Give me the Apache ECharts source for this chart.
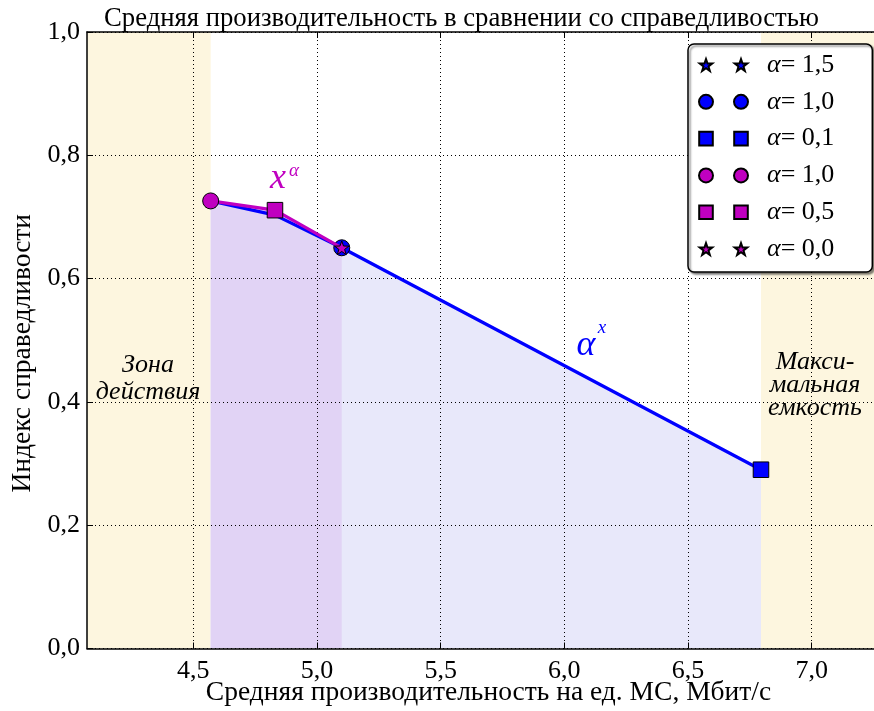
<!DOCTYPE html>
<html>
<head>
<meta charset="utf-8">
<script src="https://cdn.jsdelivr.net/npm/echarts@6/dist/echarts.min.js"></script>
<style>
  html, body { margin: 0; padding: 0; background: #fff; }
  #chart { width: 874px; height: 711px; }
</style>
</head>
<body>
<div id="chart"></div>
<script>
// Average throughput per MS (Mbit/s) and fairness index along the two policy curves
const blueThroughput = [4.57, 4.83, 5.10, 6.795];
const blueFairness = [0.726, 0.703, 0.650, 0.290];
const magentaThroughput = [4.57, 4.83, 5.10];
const magentaFairness = [0.726, 0.711, 0.650];

// Marked points: which curve, which point on it, marker shape, alpha value
const markerCurve = ['blue', 'blue', 'blue', 'magenta', 'magenta', 'magenta'];
const markerPoint = [0, 2, 3, 0, 1, 2];
const markerShape = ['star', 'circle', 'square', 'circle', 'square', 'star'];
const alphaLabels = ['1,5', '1,0', '0,1', '1,0', '0,5', '0,0'];

// Axis extents and ticks
const xRange = [4.07, 7.26];
const xTickValues = [4.5, 5.0, 5.5, 6.0, 6.5, 7.0];
const yTickValues = [0.0, 0.2, 0.4, 0.6, 0.8, 1.0];

const FONT = 'Liberation Serif';
const BLUE = '#0000ff';
const MAGENTA = '#c000c0';
const colorOf = { blue: BLUE, magenta: MAGENTA };
const fmt = v => v.toFixed(1).replace('.', ',');

// ---- marker paths (shared bounding box so legend icons scale alike) ----
function starPath(cx, R) {
  const r = R * 0.4;
  let d = '';
  for (let i = 0; i < 10; i++) {
    const rad = (i % 2 === 0) ? R : r;
    const a = -Math.PI / 2 + i * Math.PI / 5;
    const x = (cx + rad * Math.cos(a)).toFixed(2);
    const y = (rad * Math.sin(a) + 0.6).toFixed(2);
    d += (i === 0 ? 'M' : 'L') + x + ',' + y;
  }
  return d + 'Z';
}
function circlePath(cx, r) {
  return `M${cx - r},0A${r},${r} 0 1,0 ${cx + r},0A${r},${r} 0 1,0 ${cx - r},0Z`;
}
function squarePath(cx, h) {
  return `M${cx - h},${-h}L${cx + h},${-h}L${cx + h},${h}L${cx - h},${h}Z`;
}
const BOX = 7;
function frame(x0, x1) {
  return `M${x0},${-BOX}L${x0},${-BOX}M${x1},${BOX}L${x1},${BOX}`;
}
function shapePath(shape, cx) {
  if (shape === 'star') return starPath(cx, 6.6);
  if (shape === 'circle') return circlePath(cx, 7);
  return squarePath(cx, 6.8);
}
const PAIR_GAP = 35;
function legendIcon(shape) {
  return 'path://' + frame(-BOX, PAIR_GAP + BOX) + shapePath(shape, 0) + shapePath(shape, PAIR_GAP);
}
function plotSymbol(shape) {
  return 'path://' + frame(-BOX, BOX) + shapePath(shape, 0);
}

const bluePts = blueThroughput.map((x, i) => [x, blueFairness[i]]);
const magentaPts = magentaThroughput.map((x, i) => [x, magentaFairness[i]]);
const ptsOf = { blue: bluePts, magenta: magentaPts };

const markerNames = markerShape.map((s, i) => 'marker' + i);

const markerSeries = markerShape.map((shape, i) => ({
  name: markerNames[i],
  type: 'scatter',
  z: markerCurve[i] === 'blue' ? 4 : 6,
  symbol: plotSymbol(shape),
  symbolSize: 16,
  itemStyle: { color: colorOf[markerCurve[i]], borderColor: '#000', borderWidth: 1, opacity: 1 },
  data: [ptsOf[markerCurve[i]][markerPoint[i]]],
  silent: true
}));

const chart = echarts.init(document.getElementById('chart'), null, { renderer: 'canvas' });

const lastBlue = blueThroughput[blueThroughput.length - 1];

function caption(x, y, text, color, size, italic, lineHeight) {
  return {
    type: 'text', x, y, z: 10, silent: true,
    style: {
      text, fill: color, fontFamily: FONT, fontSize: size,
      fontStyle: italic ? 'italic' : 'normal',
      align: 'center', verticalAlign: 'middle', lineHeight: lineHeight || size
    }
  };
}

const option = {
  backgroundColor: '#fff',
  animation: false,
  textStyle: { fontFamily: FONT },
  title: {
    text: 'Средняя производительность в сравнении со справедливостью',
    left: 104,
    top: 5,
    padding: 0,
    textStyle: { fontFamily: FONT, fontWeight: 'normal', fontSize: 26.7, color: '#000' }
  },
  grid: { left: 87, right: -2, top: 32, bottom: 62.5, containLabel: false, outerBoundsMode: 'none' },
  legend: {
    orient: 'vertical',
    left: 688,
    top: 44,
    padding: [8, 38, 10, 10],
    itemWidth: 49,
    itemHeight: 14,
    itemGap: 10.8,
    backgroundColor: '#fff',
    borderColor: '#000',
    borderWidth: 1.5,
    borderRadius: 6,
    shadowColor: 'rgba(0,0,0,0.45)',
    shadowBlur: 2,
    shadowOffsetX: 2,
    shadowOffsetY: 2,
    data: markerShape.map((shape, i) => ({ name: markerNames[i], icon: legendIcon(shape) })),
    formatter: name => {
      const i = markerNames.indexOf(name);
      return `{a|α}{b|= ${alphaLabels[i]}}`;
    },
    textStyle: {
      rich: {
        a: { fontFamily: FONT, fontStyle: 'italic', fontSize: 26, color: '#000', padding: [0, 0, 0, 14] },
        b: { fontFamily: FONT, fontSize: 26, color: '#000' }
      }
    },
    selectedMode: false
  },
  xAxis: [{
    type: 'value',
    min: xRange[0],
    max: xRange[1],
    interval: 0.5,
    z: 2,
    name: 'Средняя производительность на ед. МС, Мбит/с',
    nameLocation: 'middle',
    nameGap: 30,
    nameMoveOverlap: false,
    nameTextStyle: { fontFamily: FONT, fontSize: 27.5, color: '#000', padding: [0, 0, 0, 14] },
    axisLine: { show: true, onZero: false, lineStyle: { color: '#000', width: 1.5 } },
    axisTick: { show: true, inside: true, length: 6, lineStyle: { color: '#000', width: 1 },
      customValues: xTickValues },
    axisLabel: {
      fontFamily: FONT, fontSize: 26, color: '#000', margin: 10,
      customValues: xTickValues,
      formatter: v => fmt(v)
    },
    splitLine: { show: true, lineStyle: { color: '#000', type: [1, 3], width: 1 } }
  }, {
    type: 'value',
    position: 'top',
    min: xRange[0],
    max: xRange[1],
    z: 2,
    axisLine: { show: true, onZero: false, lineStyle: { color: '#000', width: 1.5 } },
    axisTick: { show: true, inside: true, length: 6, lineStyle: { color: '#000', width: 1 },
      customValues: xTickValues },
    axisLabel: { show: false },
    splitLine: { show: false }
  }],
  yAxis: {
    type: 'value',
    min: 0,
    max: 1,
    interval: 0.2,
    z: 2,
    name: 'Индекс справедливости',
    nameLocation: 'middle',
    nameRotate: 90,
    nameGap: 50,
    nameMoveOverlap: false,
    nameTextStyle: { fontFamily: FONT, fontSize: 27.5, color: '#000', padding: [0, 26, 0, 0] },
    axisLine: { show: true, lineStyle: { color: '#000', width: 1.5 } },
    axisTick: { show: true, inside: true, length: 6, lineStyle: { color: '#000', width: 1 } },
    axisLabel: {
      fontFamily: FONT, fontSize: 26, color: '#000', margin: 7,
      customValues: yTickValues,
      formatter: v => fmt(v)
    },
    splitLine: { show: true, lineStyle: { color: '#000', type: [1, 3], width: 1 } }
  },
  series: [
    {
      name: 'blueArea',
      type: 'line',
      z: 1,
      symbol: 'none',
      silent: true,
      data: bluePts,
      lineStyle: { width: 0, opacity: 0 },
      areaStyle: { color: '#e8e8fa', opacity: 1 },
      markArea: {
        silent: true,
        itemStyle: { color: '#fdf6df', opacity: 1 },
        data: [
          [{ xAxis: xRange[0], yAxis: 0 }, { xAxis: blueThroughput[0], yAxis: 1 }],
          [{ xAxis: lastBlue, yAxis: 0 }, { xAxis: xRange[1], yAxis: 1 }]
        ]
      }
    },
    {
      name: 'magentaArea',
      type: 'line',
      z: 1,
      symbol: 'none',
      silent: true,
      data: magentaPts,
      lineStyle: { width: 0, opacity: 0 },
      areaStyle: { color: '#e1d3f5', opacity: 1 }
    },
    {
      name: 'blueLine',
      type: 'line',
      z: 3,
      symbol: 'none',
      silent: true,
      data: bluePts,
      lineStyle: { color: BLUE, width: 3.2 }
    },
    {
      name: 'magentaLine',
      type: 'line',
      z: 5,
      symbol: 'none',
      silent: true,
      data: magentaPts,
      lineStyle: { color: MAGENTA, width: 3.2 }
    },
    ...markerSeries
  ],
  graphic: [
    // zone captions
    caption(148, 379, 'Зона\nдействия', '#000', 26, true, 27),
    caption(815, 385, 'Макси-\nмальная\nемкость', '#000', 26, true, 23),
    // curve captions
    caption(278, 179, 'x', MAGENTA, 36, true),
    caption(294, 171, 'α', MAGENTA, 19, true),
    caption(586, 346, 'α', BLUE, 36, true),
    caption(602, 328, 'x', BLUE, 19, true)
  ]
};

chart.setOption(option);
</script>
</body>
</html>
